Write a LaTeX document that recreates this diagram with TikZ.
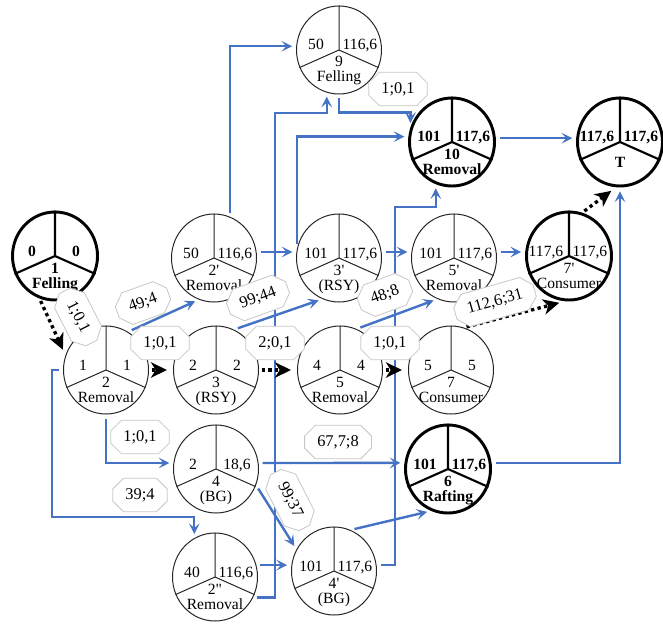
\documentclass[tikz,border=0pt]{standalone}
\usepackage{fontspec}
\setmainfont{Liberation Serif}
\usetikzlibrary{shapes.geometric,shapes.misc,arrows.meta,calc}
\definecolor{eblue}{HTML}{4472C4}
\tikzset{
  regcirc/.style={ellipse, draw=black!85, line width=0.75pt, minimum width=63.75pt, minimum height=66pt, inner sep=0pt},
  boldcirc/.style={ellipse, draw=black, line width=2.2pt, minimum width=63.75pt, minimum height=66pt, inner sep=0pt},
  regdiv/.style={draw=black!85, line width=0.75pt},
  bolddiv/.style={draw=black, line width=1.6pt},
  regtxt/.style={font=\fontsize{11.7}{13}\selectfont, inner sep=0pt},
  boldtxt/.style={font=\fontsize{11.7}{13}\selectfont\bfseries, inner sep=0pt},
  bl/.style={draw=eblue, line width=1.8pt, -{Stealth[length=8pt,width=8pt,inset=3.5pt]}, shorten >=3pt, shorten <=3pt},
  dt/.style={draw=black, line width=2.5pt, dash pattern=on 2.5pt off 2.5pt, -{Stealth[length=12pt,width=11.5pt,inset=3.5pt]}, shorten >=4.5pt, shorten <=2pt},
  lbl/.style={chamfered rectangle, draw=black!22, fill=white, line width=0.6pt, inner xsep=4.5pt, inner ysep=4.5pt, chamfered rectangle xsep=5pt, font=\fontsize{12.3}{14}\selectfont}
}
\newcommand\ptnode[8]{%
  \node[#7circ] (#1) at (#2) {};
  \draw[#7div] (#1.center) -- (#1.north) (#1.center) -- (#1.204) (#1.center) -- (#1.336);
  \node[#8txt, anchor=base] at ($(#1.center)+(-23,0)$) {#3};
  \node[#8txt, anchor=base] at ($(#1.center)+(21,0)$) {#4};
  \node[#8txt, anchor=base] at ($(#1.center)+(0,17)$) {#5};
  \node[#8txt, anchor=base] at ($(#1.center)+(0,32)$) {#6};
}
\begin{document}
\begin{tikzpicture}[x=0.75pt,y=-0.75pt]
\useasboundingbox (0,0) rectangle (663,624);
% nodes
\ptnode{n1}{55,256}{0}{0}{1}{Felling}{bold}{bold}
\ptnode{n2}{106,370}{1}{1}{2}{Removal}{reg}{reg}
\ptnode{n3}{216,370}{2}{2}{3}{(RSY)}{reg}{reg}
\ptnode{n5}{340,370}{4}{4}{5}{Removal}{reg}{reg}
\ptnode{n7}{451,370}{5}{5}{7}{Consumer}{reg}{reg}
\ptnode{n2p}{214,258}{50}{116,6}{2\textquotesingle}{Removal}{reg}{reg}
\ptnode{n3p}{339,258}{101}{117,6}{3\textquotesingle}{(RSY)}{reg}{reg}
\ptnode{n5p}{454,258}{101}{117,6}{5\textquotesingle}{Removal}{reg}{reg}
\ptnode{n7p}{569,256}{117,6}{117,6}{7\textquotesingle}{Consumer}{bold}{reg}
\ptnode{n9}{339,50}{50}{116,6}{9}{Felling}{reg}{reg}
\ptnode{n10}{452,142}{101}{117,6}{10}{Removal}{bold}{bold}
\ptnode{nT}{620,142}{117,6}{117,6}{}{}{bold}{bold}
\node[boldtxt, anchor=base] (tT) at ($(nT.center)+(0,25)$) {T};
\ptnode{n4}{216,469}{2}{18,6}{4}{(BG)}{reg}{reg}
\ptnode{n6}{448,469}{101}{117,6}{6}{Rafting}{bold}{bold}
\ptnode{n2pp}{215,577}{40}{116,6}{2\textquotedbl}{Removal}{reg}{reg}
\ptnode{n4p}{334,571}{101}{117,6}{4\textquotesingle}{(BG)}{reg}{reg}
% corner coordinates
\coordinate (c1) at (275,113);
\coordinate (c3) at (395,207);
\coordinate (c4) at (52,517);
% blue connectors
\draw[bl] (n2.60) -- (n2p.250);
\draw[bl] (n2.south) |- (n4.172);
\draw[bl] (n2.west) -| (c4) -| (n2pp.118);
\draw[bl] (n2p.69) |- (n9.175);
\draw[bl] (n2pp.332) -| (c1) -| (n9.254);
\draw[bl] (n2pp.16) -- (n2pp.16 -| n4p.west);
\draw[bl] (n2p.8) -- (n3p.172);
\draw[bl] (n3.66) -- (n3p.248);
\draw[bl] (n3p.167) |- (n10.173);
\draw[bl] (n3p.8) -- (n5p.172);
\draw[bl] (n5.68) -- (n5p.248);
\draw[bl] (n5p.8) -- (n5p.8 -| n7p.west);
\draw[bl] (n9.south) -- ++(0,18) -| (n10.160);
\draw[bl] (n10.5) -- (nT.175);
\draw[bl] (n4.8) -- (n6.172);
\draw[bl] (n4.-22) -- (n4p.150);
\draw[bl] (n4p.68) -- (n6.248);
\draw[bl] (n4p.8) -| (c3) -| (n10.249);
\draw[bl] (n6.8) -| (nT.south);
% black dotted connectors
\draw[dt] (n1.250) -- (n2.160);
\draw[dt] (n2.east) -- (n3.west);
\draw[dt] (n3.east) -- (n5.west);
\draw[dt] (n5.east) -- (n7.west);
\draw[dt] (n7.73) -- (n7p.265);
\draw[dt] (n7p.73) -- (nT.265);
% labels
\node[lbl, rotate=-63] (l1) at (78,317) {1;0,1};
\node[lbl, rotate=20] (l2) at (143,303) {49;4};
\node[lbl] (l3) at (160,343) {1;0,1};
\node[lbl, rotate=20] (l4) at (258,298) {99;44};
\node[lbl] (l5) at (275,343) {2;0,1};
\node[lbl, rotate=20] (l6) at (385,295) {48;8};
\node[lbl] (l7) at (390,343) {1;0,1};
\node[lbl, rotate=16] (l8) at (495,302) {112,6;31};
\node[lbl] (l9) at (398,89) {1;0,1};
\node[lbl] (l10) at (140,437) {1;0,1};
\node[lbl] (l11) at (140,495) {39;4};
\node[lbl] (l12) at (338,442) {67,7;8};
\node[lbl, rotate=-63] (l13) at (290,500) {99;37};
\end{tikzpicture}
\end{document}
